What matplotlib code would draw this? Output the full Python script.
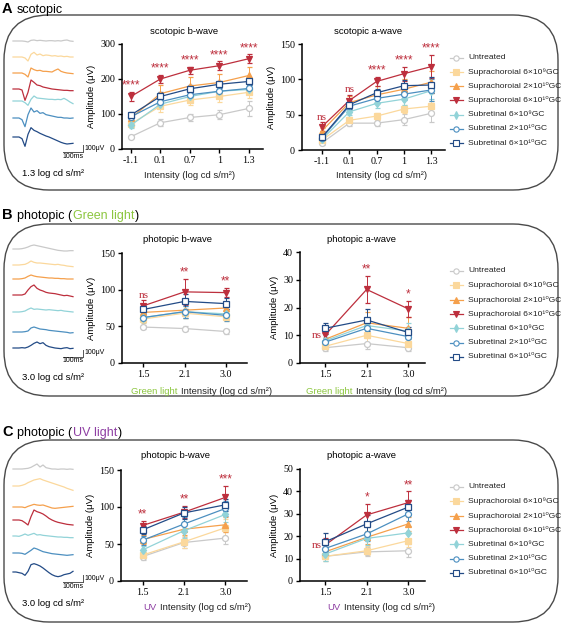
import matplotlib
matplotlib.use("Agg")
import matplotlib.pyplot as plt
import numpy as np
from matplotlib.patches import FancyBboxPatch
from matplotlib.offsetbox import TextArea, HPacker, AnnotationBbox

plt.rcParams["font.family"] = ["Liberation Sans", "DejaVu Sans"]

W, H = 561, 625

groups = ["Untreated", "Suprachoroial 6×10⁹GC", "Suprachoroial 2×10¹⁰GC",
          "Suprachoroial 6×10¹⁰GC", "Subretinal 6×10⁹GC",
          "Subretinal 2×10¹⁰GC", "Subretinal 6×10¹⁰GC"]
colors = ["#c9c9c9", "#fbd89c", "#f5a04c", "#bd2f3d", "#92d3d8", "#4c8fc0", "#234b86"]
markers = ["o", "s", "^", "v", "d", "o", "s"]
filled = [False, True, True, True, True, False, False]
GREEN = "#8cc63f"
PURPLE = "#8e3fa3"

scot_x = ["-1.1", "0.1", "0.7", "1", "1.3"]
phot_x = ["1.5", "2.1", "3.0"]

# amplitudes in uV, rows follow `groups`
scot_b = [[35, 75, 90, 98, 116], [72, 122, 140, 150, 162], [88, 158, 180, 190, 210],
          [150, 200, 225, 238, 258], [68, 128, 150, 165, 170], [92, 135, 155, 165, 173],
          [97, 150, 172, 185, 193]]
scot_b_err = [[5, 10, 10, 12, 22], [10, 15, 15, 15, 15], [10, 25, 25, 25, 25],
              [12, 12, 10, 12, 12], [8, 12, 12, 12, 12], [8, 12, 12, 12, 12],
              [8, 12, 12, 10, 10]]
scot_b_sig = ["****", "****", "****", "****", "****"]

scot_a = [[10, 38, 38, 43, 52], [14, 42, 48, 58, 62], [27, 67, 78, 86, 96],
          [33, 70, 97, 108, 118], [15, 54, 66, 72, 84], [17, 62, 73, 79, 85],
          [18, 64, 81, 91, 92]]
scot_a_err = [[3, 4, 4, 8, 12], [3, 4, 5, 6, 8], [4, 10, 12, 14, 16], [6, 8, 6, 10, 16],
              [3, 5, 6, 8, 12], [3, 5, 6, 8, 15], [3, 6, 6, 8, 12]]
scot_a_sig = ["ns", "ns", "****", "****", "****"]

green_b = [[49, 47, 43], [60, 68, 63], [69, 72, 75], [78, 97, 96],
           [62, 70, 67], [62, 70, 65], [73, 84, 81]]
green_b_err = [[3, 4, 3], [5, 6, 6], [5, 10, 8], [8, 18, 6], [6, 8, 6], [6, 8, 8], [6, 10, 8]]
green_b_sig = ["ns", "**", "**"]

green_a = [[5.5, 7, 5.5], [6, 10, 7], [8.5, 14.5, 12.5], [10, 26.5, 19.5],
           [8, 13.5, 11.5], [7.5, 12.5, 9.5], [12.5, 15.5, 11]]
green_a_err = [[1, 2, 1], [1, 3, 2], [2, 4, 4], [2, 5, 3], [1.5, 3, 3], [1.5, 3, 2], [2, 4, 2]]
green_a_sig = ["ns", "**", "*"]

uv_b = [[33, 52, 58], [35, 53, 72], [56, 70, 76], [75, 93, 113],
        [42, 68, 90], [55, 77, 98], [69, 92, 103]]
uv_b_err = [[4, 8, 8], [4, 8, 12], [6, 8, 10], [6, 8, 15], [5, 10, 10], [6, 10, 10], [6, 8, 8]]
uv_b_sig = ["**", "**", "***"]

uv_a = [[11, 13, 13.5], [11, 13.5, 18], [13, 19.5, 25.5], [16, 29.5, 35],
        [12, 19, 21.5], [14.5, 21, 30], [17.5, 25.5, 33]]
uv_a_err = [[2, 2, 3], [2, 2, 3], [2, 3, 3], [3, 5, 5], [3, 3, 3], [4, 3, 3], [4, 4, 3]]
uv_a_sig = ["ns", "*", "**"]

# representative ERG traces, uV, one sample every 15 ms
t_ms = np.arange(21) * 15
scot_traces = [
    [0, 0, 0, 0, -5, -15, 10, 15, 5, 10, 5, 0, 5, 5, 0, 5, 0, 10, 15, 0, -5],
    [0, 0, 0, 0, -15, -60, 40, 70, 30, 45, 20, 30, 25, 15, 20, 10, 15, 5, 10, 0, 0],
    [0, 0, 0, 0, -20, -60, 75, 50, 35, 40, 25, 25, 20, 15, 40, 60, 25, 10, 0, -5, -10],
    [0, 0, 0, -15, -170, -50, 135, 100, 60, 50, 30, 20, 10, 0, -5, -10, -15, -20, -20, -25, -25],
    [0, 0, 0, 0, -25, -65, 25, 75, 45, 40, 35, 30, 25, 25, 20, 25, 20, 40, 15, -15, -40],
    [0, 0, 0, -25, -130, 50, 150, 90, 110, 70, 80, 50, 40, 30, 20, 10, 10, 0, 0, -5, 0],
    [0, 0, 0, -25, -140, 40, 140, 100, 80, 55, 35, 15, 0, -20, -40, -60, -80, -95, -105, -100, -95],
]
green_traces = [
    [0, 0, 0, 5, 15, 30, 50, 60, 50, 40, 30, 20, 10, 0, -10, -20, -25, -30, -30, -25, -25],
    [0, 0, 0, 5, 10, 30, 60, 40, 30, 30, 25, 20, 15, 10, 5, 10, 0, -5, -15, -20, -25],
    [0, 0, 0, 5, 15, 40, 60, 45, 35, 30, 25, 20, 15, 15, 10, 10, 5, 5, 0, 0, 0],
    [0, 0, 0, 0, 15, 75, 125, 150, 100, 75, 60, 40, 30, 25, 20, 10, 0, -10, -5, -15, -25],
    [0, 0, 0, 5, 15, 40, 60, 40, 45, 40, 35, 30, 35, 30, 25, 20, 25, 15, 10, 5, 0],
    [0, 0, 0, 0, 5, 15, 60, 75, 60, 45, 40, 35, 25, 20, 15, 10, 5, 0, -5, -15, -10],
    [0, 0, 0, 5, 0, 15, 40, 70, 90, 65, 80, 40, 20, 10, 0, -5, -10, 0, 5, -10, -5],
]
uv_traces = [
    [0, 0, 0, 0, 5, 10, 25, 50, 75, 30, 60, 20, 10, 0, 0, -5, 0, 0, -5, 0, -5],
    [0, 0, 0, 10, 25, 50, 70, 90, 100, 110, 90, 75, 60, 45, 30, 15, 0, -15, -35, -50, -65],
    [0, 0, 0, 0, -10, 10, 25, 40, 30, 25, 30, 15, 0, -15, -20, -15, -10, -5, 0, 5, 10],
    [0, 0, 0, -10, -40, -75, 50, 150, 125, 110, 90, 60, 25, 0, -20, -35, -45, -55, -65, -70, -75],
    [0, 0, -5, 10, 30, 10, 25, 40, 15, 20, 10, 5, 0, -5, -10, -15, -15, -20, -20, -25, -25],
    [0, 0, 0, -5, -20, 10, 40, 75, 60, 40, 20, 10, 0, -10, -15, -20, -25, -30, -35, -30, -25],
    [0, 0, -10, -20, -50, 10, 110, 125, 110, 90, 60, 25, -10, -40, -60, -70, -60, -40, -30, -20, 10],
]

fig = plt.figure(figsize=(W / 100, H / 100), dpi=100)

# overlay in pixel coordinates for frames, traces, legends and labels
ov = fig.add_axes([0, 0, 1, 1])
ov.set_xlim(0, W)
ov.set_ylim(H, 0)
ov.axis("off")

LABEL_FS = 6.8


def px_axes(x0, y0, x1, y1):
    return fig.add_axes([x0 / W, 1 - y1 / H, (x1 - x0) / W, (y1 - y0) / H])


def pack(parts, size, sep):
    boxes = []
    for p in parts:
        props = dict(fontsize=size, color=p[1])
        if len(p) > 2:
            props.update(p[2])
        boxes.append(TextArea(p[0], textprops=props))
    return HPacker(children=boxes, sep=sep, pad=0, align="baseline")


def place(box, x, y, align=(0.5, 0.5)):
    ab = AnnotationBbox(box, (x, y), xycoords="data", frameon=False,
                        box_alignment=align, pad=0, annotation_clip=False)
    ov.add_artist(ab)


def header(y, letter, parts):
    tag = TextArea(letter, textprops=dict(fontsize=10.5, fontweight="bold", color="black"))
    rest = pack(parts, 9, 0.6)
    place(HPacker(children=[tag, rest], sep=3, pad=0, align="baseline"), 2, y, align=(0, 0.5))


def frame(y0, y1):
    box = FancyBboxPatch((4, y0), 554, y1 - y0, boxstyle="round,pad=0,rounding_size=45",
                         fill=False, ec="#4a4a4a", lw=1.0, clip_on=False)
    ov.add_patch(box)


def traces(traces_uv, baselines, bar_y, label, label_y):
    for k, tr in enumerate(traces_uv):
        ov.plot(13 + t_ms / 5, baselines[k] - np.array(tr) / 15, color=colors[k], lw=0.9)
    ov.plot([63, 83], [bar_y, bar_y], color="#555", lw=0.7)
    ov.plot([83, 83], [bar_y, bar_y - 100 / 15], color="#555", lw=0.7)
    ov.text(84, bar_y - 3.5, "100μV", fontsize=5, va="center", ha="left")
    ov.text(73, bar_y + 4, "100ms", fontsize=5, va="center", ha="center")
    ov.text(53, label_y, label, fontsize=6.8, ha="center", va="center")


def legend(y0):
    for k, g in enumerate(groups):
        y = y0 + k * 14.3
        ov.plot([450, 463], [y, y], color=colors[k], lw=0.9)
        ov.plot([456.5], [y], marker=markers[k], ms=3.8, color=colors[k],
                mfc=colors[k] if filled[k] else "white", mec=colors[k], mew=0.8)
        ov.text(468, y, g, fontsize=6.1, va="center", ha="left", color="#222")


def chart(box, vals, errs, xt, xlim, ylim, yticks, title, title_xy, sig, left=()):
    ax = px_axes(*box)
    ax.set_facecolor("none")
    x = np.arange(len(xt))
    for k in range(7):
        ax.errorbar(x, vals[k], yerr=errs[k], color=colors[k], lw=0.9,
                    marker=markers[k], ms=4.3, mfc=colors[k] if filled[k] else "white",
                    mec=colors[k], mew=0.9, elinewidth=0.7, capsize=1.8,
                    capthick=0.7, clip_on=False)
    ax.set_xlim(*xlim)
    ax.set_ylim(*ylim)
    ax.set_xticks(x, xt)
    ax.set_yticks(yticks)
    for s in ("top", "right"):
        ax.spines[s].set_visible(False)
    for s in ("left", "bottom"):
        ax.spines[s].set_linewidth(1.1)
    ax.tick_params(length=3, width=1, labelsize=7.2, pad=2)
    for lab in ax.get_xticklabels() + ax.get_yticklabels():
        lab.set_fontfamily("Liberation Serif")
    ax.set_ylabel("Amplitude (μV)", fontsize=LABEL_FS, labelpad=3)
    red, rerr = vals[3], errs[3]
    for i, s in enumerate(sig):
        fam = "Liberation Serif" if s == "ns" else "Liberation Sans"
        fs = 8 if s == "ns" else 8.5
        if i in left:
            ax.annotate(s, (x[i], red[i]), xytext=(-2.5, 0), textcoords="offset points",
                        ha="right", va="center", color=colors[3], fontsize=fs, family=fam)
        else:
            ax.annotate(s, (x[i], red[i] + rerr[i]), xytext=(0, 0.3),
                        textcoords="offset points", ha="center", va="bottom",
                        color=colors[3], fontsize=fs, family=fam)
    ov.text(title_xy[0], title_xy[1], title, fontsize=6.8, ha="center", va="center")
    return ax


# ---- A scotopic
frame(15, 190)
header(9, "A", [("scotopic", "black")])
traces(scot_traces, [41, 57, 73, 89, 101, 118, 137], 152, "1.3 log cd s/m²", 174)
chart((122, 44, 263, 149), scot_b, scot_b_err, scot_x, (-0.3, 4.48), (0, 300),
      [0, 100, 200, 300], "scotopic b-wave", (184, 32), scot_b_sig)
chart((302, 44, 445, 150), scot_a, scot_a_err, scot_x, (-0.73, 4.5), (0, 150),
      [0, 50, 100, 150], "scotopic a-wave", (368, 32), scot_a_sig)
place(pack([("Intensity (log cd s/m²)", "#222")], LABEL_FS, 2.5), 190, 176)
place(pack([("Intensity (log cd s/m²)", "#222")], LABEL_FS, 2.5), 382, 176)
legend(57.5)

# ---- B photopic green
frame(224, 396)
header(215, "B", [("photopic (", "black"), ("Green light", GREEN), (")", "black")])
traces(green_traces, [249, 265, 279, 295, 312, 332, 348], 356.5, "3.0 log cd s/m²", 377)
chart((122, 253, 247, 363), green_b, green_b_err, phot_x, (-0.52, 2.52), (0, 150),
      [0, 50, 100, 150], "photopic b-wave", (178, 240), green_b_sig)
chart((300, 252, 425, 363), green_a, green_a_err, phot_x, (-0.6, 2.4), (0, 40),
      [0, 10, 20, 30, 40], "photopic a-wave", (362, 240), green_a_sig, left=(0,))
place(pack([("Green light", GREEN), ("Intensity (log cd s/m²)", "#222")], LABEL_FS, 2.5), 202, 391)
place(pack([("Green light", GREEN), ("Intensity (log cd s/m²)", "#222")], LABEL_FS, 2.5), 377, 391)
legend(271)

# ---- C photopic UV
frame(440, 622)
header(432, "C", [("photopic (", "black"), ("UV light", PURPLE), (")", "black")])
traces(uv_traces, [469, 486, 507, 520, 536, 553, 572], 582, "3.0 log cd s/m²", 603)
chart((121, 470, 247, 581), uv_b, uv_b_err, phot_x, (-0.52, 2.52), (0, 150),
      [0, 50, 100, 150], "photopic b-wave", (176, 455), uv_b_sig)
chart((300, 469, 425, 581), uv_a, uv_a_err, phot_x, (-0.6, 2.4), (0, 50),
      [0, 10, 20, 30, 40, 50], "photopic a-wave", (362, 455), uv_a_sig, left=(0,))
place(pack([("UV", PURPLE), ("Intensity (log cd s/m²)", "#222")], LABEL_FS, 2.5), 197, 607)
place(pack([("UV", PURPLE), ("Intensity (log cd s/m²)", "#222")], LABEL_FS, 2.5), 381, 607)
legend(487)

fig.savefig("out.png", dpi=100)
